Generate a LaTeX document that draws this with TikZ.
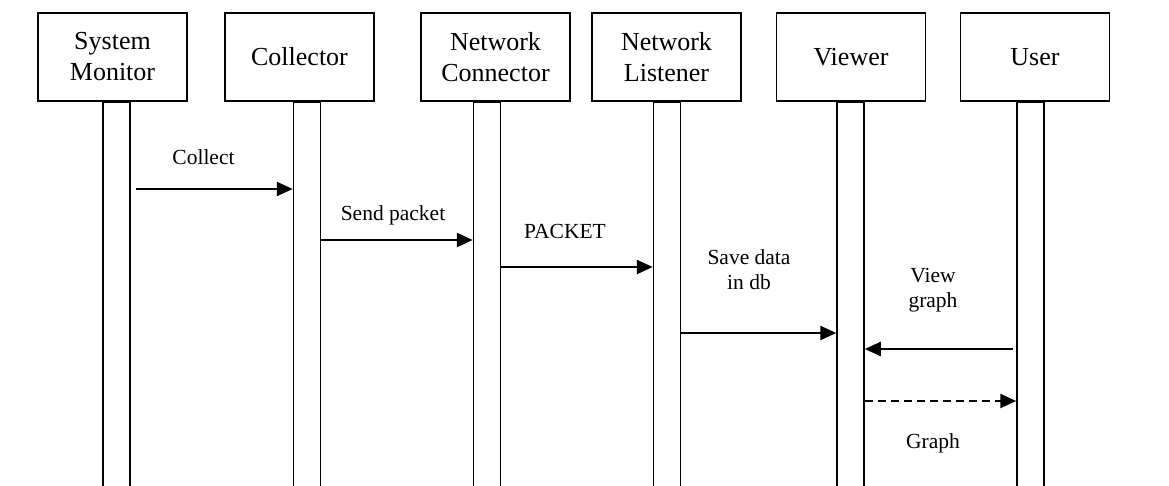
\documentclass[tikz,border=0pt]{standalone}
\usepackage{fontspec}
\setmainfont{Liberation Serif}
\usetikzlibrary{arrows.meta}
\begin{document}
\begin{tikzpicture}[x=1pt,y=1pt,
  actor/.style={draw,line width=1.6pt,fill=white,minimum width=149pt,minimum height=88pt,inner sep=0pt,align=center,font=\fontsize{26}{31}\selectfont},
  bar/.style={draw,line width=1.5pt,minimum width=27pt,minimum height=420pt,anchor=north,inner sep=0pt},
  msg/.style={line width=2.4pt,-{Triangle[length=16pt,width=14pt]}},
  reply/.style={msg,dash pattern=on 8pt off 5pt},
  lbl/.style={font=\fontsize{21.5}{25}\selectfont,align=center,inner sep=0pt}]
\useasboundingbox (0,0) rectangle (1169,-485);
% lifelines
\node[bar] (smb) at (116.5,-101) {};
\node[bar] (colb) at (307,-101) {};
\node[bar] (ncb) at (487,-101) {};
\node[bar] (nlb) at (667,-101) {};
\node[bar] (vb) at (850.5,-101) {};
\node[bar] (ub) at (1030.5,-101) {};
% actors
\node[actor] (sm) at (112.5,-57) {System\\Monitor};
\node[actor] (col) at (299.5,-57) {Collector};
\node[actor] (nc) at (495.5,-57) {Network\\Connector};
\node[actor] (nl) at (666.5,-57) {Network\\Listener};
\node[actor] (v) at (851,-57) {Viewer};
\node[actor] (u) at (1035,-57) {User};
% messages
\draw[msg,shorten <=5pt] (smb.east |- 0,-189) -- (colb.west |- 0,-189);
\draw[msg] (colb.east |- 0,-240) -- (ncb.west |- 0,-240);
\draw[msg] (ncb.east |- 0,-267) -- (nlb.west |- 0,-267);
\draw[msg] (nlb.east |- 0,-333) -- (vb.west |- 0,-333);
\draw[msg,shorten <=3pt] (ub.west |- 0,-349) -- (vb.east |- 0,-349);
\draw[reply] (vb.east |- 0,-401) -- (ub.west |- 0,-401);
% labels
\node[lbl,anchor=base] (l1) at (203.5,-164) {Collect};
\node[lbl,anchor=base] (l2) at (393,-220) {Send packet};
\node[lbl,anchor=base] (l3) at (565,-238) {PACKET};
\node[lbl] (l4) at (749,-270) {Save data\\in db};
\node[lbl] (l5) at (933,-290.5) {View\\graph};
\node[lbl,anchor=base] (l6) at (933,-448) {Graph};
\end{tikzpicture}
\end{document}
